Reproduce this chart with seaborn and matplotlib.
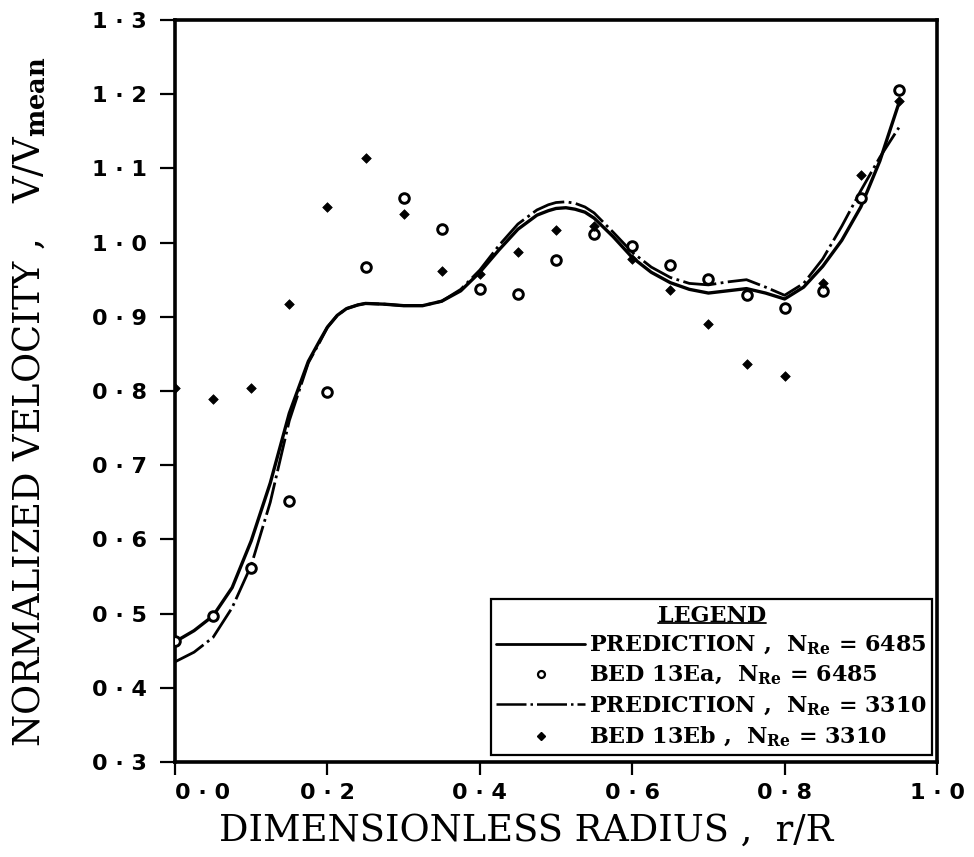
import numpy as np
import pandas as pd
import matplotlib
matplotlib.use("Agg")
import matplotlib.pyplot as plt
from matplotlib.lines import Line2D
import seaborn as sns

# ---- data ----
x_pts = [0.00, 0.05, 0.10, 0.15, 0.20, 0.25, 0.30, 0.35, 0.40, 0.45,
         0.50, 0.55, 0.60, 0.65, 0.70, 0.75, 0.80, 0.85, 0.90, 0.95]
bed_13Ea = [0.463, 0.497, 0.561, 0.652, 0.799, 0.967, 1.060, 1.018, 0.937, 0.931,
            0.977, 1.012, 0.995, 0.970, 0.951, 0.929, 0.912, 0.935, 1.060, 1.206]
bed_13Eb = [0.804, 0.789, 0.804, 0.917, 1.048, 1.114, 1.039, 0.962, 0.958, 0.987,
            1.017, 1.022, 0.978, 0.936, 0.890, 0.836, 0.820, 0.946, 1.091, 1.191]

x_curve = [0.000, 0.025, 0.050, 0.075, 0.100, 0.125, 0.150, 0.175, 0.190, 0.200,
           0.213, 0.225, 0.240, 0.250, 0.275, 0.300, 0.325, 0.350, 0.375, 0.400,
           0.425, 0.450, 0.475, 0.490, 0.500, 0.513, 0.525, 0.538, 0.550, 0.575,
           0.600, 0.625, 0.650, 0.675, 0.700, 0.725, 0.750, 0.775, 0.800, 0.825,
           0.850, 0.875, 0.900, 0.925, 0.950]
pred_6485 = [0.462, 0.477, 0.497, 0.535, 0.598, 0.676, 0.770, 0.840, 0.868, 0.886,
             0.902, 0.911, 0.916, 0.918, 0.917, 0.915, 0.915, 0.921, 0.935, 0.960,
             0.990, 1.018, 1.037, 1.043, 1.046, 1.047, 1.045, 1.041, 1.033, 1.008,
             0.980, 0.960, 0.946, 0.937, 0.932, 0.935, 0.938, 0.932, 0.924, 0.940,
             0.968, 1.003, 1.048, 1.110, 1.188]
pred_3310 = [0.435, 0.448, 0.468, 0.508, 0.565, 0.650, 0.760, 0.838, 0.866, 0.886,
             0.902, 0.911, 0.916, 0.918, 0.917, 0.915, 0.915, 0.921, 0.937, 0.963,
             0.996, 1.025, 1.044, 1.051, 1.054, 1.055, 1.053, 1.048, 1.040, 1.014,
             0.987, 0.967, 0.953, 0.945, 0.943, 0.947, 0.950, 0.940, 0.929, 0.945,
             0.978, 1.022, 1.070, 1.115, 1.155]

x_ticks = [0.0, 0.2, 0.4, 0.6, 0.8, 1.0]
x_ticklabels = ["0 · 0", "0 · 2", "0 · 4", "0 · 6", "0 · 8", "1 · 0"]
y_ticks = [0.3, 0.4, 0.5, 0.6, 0.7, 0.8, 0.9, 1.0, 1.1, 1.2, 1.3]
y_ticklabels = ["0 · 3", "0 · 4", "0 · 5", "0 · 6", "0 · 7", "0 · 8", "0 · 9",
                "1 · 0", "1 · 1", "1 · 2", "1 · 3"]

legend_title = "LEGEND"
labels = [r"PREDICTION ,  N$_{\mathbf{Re}}$ = 6485",
          r"BED 13Ea,  N$_{\mathbf{Re}}$ = 6485",
          r"PREDICTION ,  N$_{\mathbf{Re}}$ = 3310",
          r"BED 13Eb ,  N$_{\mathbf{Re}}$ = 3310"]

# ---- style ----
sns.set_style("ticks")
plt.rcParams["font.family"] = ["DejaVu Serif"]
plt.rcParams["mathtext.fontset"] = "dejavuserif"
for k in ["text.color", "axes.labelcolor", "xtick.color", "ytick.color",
          "axes.edgecolor"]:
    plt.rcParams[k] = "black"

fig = plt.figure(figsize=(9.74, 8.57), dpi=100)
ax = fig.add_axes([175 / 974, 1 - 762 / 857, (937 - 175) / 974, (762 - 20) / 857])

curves = pd.DataFrame({"x": x_curve, "a": pred_6485, "b": pred_3310})
pts = pd.DataFrame({"x": x_pts, "a": bed_13Ea, "b": bed_13Eb})

sns.lineplot(data=curves, x="x", y="a", ax=ax, color="black", lw=2.4,
             sort=False, estimator=None)
sns.lineplot(data=curves, x="x", y="b", ax=ax, color="black", lw=2.0,
             sort=False, estimator=None)
ax.lines[-1].set_linestyle((0, (12, 1.6, 1.0, 1.6)))
for ln in ax.lines:
    ln.set_solid_joinstyle("round")
    ln.set_dash_joinstyle("round")

sns.scatterplot(data=pts, x="x", y="a", ax=ax, marker="o", s=48,
                facecolor="white", edgecolor="black", linewidth=2.1, zorder=5)
sns.scatterplot(data=pts, x="x", y="b", ax=ax, marker="D", s=24,
                color="black", edgecolor="black", linewidth=0.5, zorder=5)

ax.set_xlim(0, 1.0)
ax.set_ylim(0.3, 1.3)
ax.set_xticks(x_ticks)
ax.set_xticklabels(x_ticklabels, fontfamily="DejaVu Sans", fontweight="bold",
                   fontsize=16)
ax.set_yticks(y_ticks)
ax.set_yticklabels(y_ticklabels, fontfamily="DejaVu Sans", fontweight="bold",
                   fontsize=16)
ax.tick_params(axis="y", direction="out", length=11, width=1.6, pad=9)
ax.tick_params(axis="x", direction="out", length=9, width=1.6, pad=6)
ax.get_xticklabels()[0].set_horizontalalignment("left")

for sp in ax.spines.values():
    sp.set_visible(True)
    sp.set_linewidth(2.6)
    sp.set_color("black")

ax.set_xlabel("DIMENSIONLESS RADIUS ,  r/R", fontsize=26.5)
ax.set_ylabel(r"NORMALIZED VELOCITY ,   V/V$_{\mathbf{mean}}$", fontsize=26.5)
ax.xaxis.set_label_coords(0.4606, -0.0687)
ax.xaxis.label.set_va("top")
ax.yaxis.set_label_coords(-0.166, 0.485)

handles = [
    Line2D([], [], color="black", lw=2.0),
    Line2D([], [], color="black", lw=0, marker="o", markersize=5,
           markerfacecolor="white", markeredgewidth=1.6),
    Line2D([], [], color="black", lw=1.8, linestyle=(0, (12, 1.6, 1.0, 1.6))),
    Line2D([], [], color="black", lw=0, marker="D", markersize=4),
]
leg = ax.legend(handles, labels, title=legend_title, loc="lower right",
                bbox_to_anchor=(0.994, 0.010), frameon=True, fancybox=False,
                prop={"size": 16, "weight": "bold"},
                title_fontproperties={"size": 16, "weight": "bold"},
                handlelength=4.0, handletextpad=0.15, borderpad=0.25,
                labelspacing=0.32, edgecolor="black", framealpha=1,
                borderaxespad=0)
leg.get_frame().set_linewidth(1.6)

fig.canvas.draw()
tb = leg.get_title().get_window_extent(fig.canvas.get_renderer())
inv = fig.transFigure.inverted()
yu = tb.y0 + 0.17 * (tb.y1 - tb.y0)
(x0, y0), (x1, y1) = inv.transform([[tb.x0, yu], [tb.x1, yu]])
fig.add_artist(Line2D([x0, x1], [y0, y0], color="black",
                      lw=1.3, transform=fig.transFigure))

fig.savefig("out.png", dpi=100)
